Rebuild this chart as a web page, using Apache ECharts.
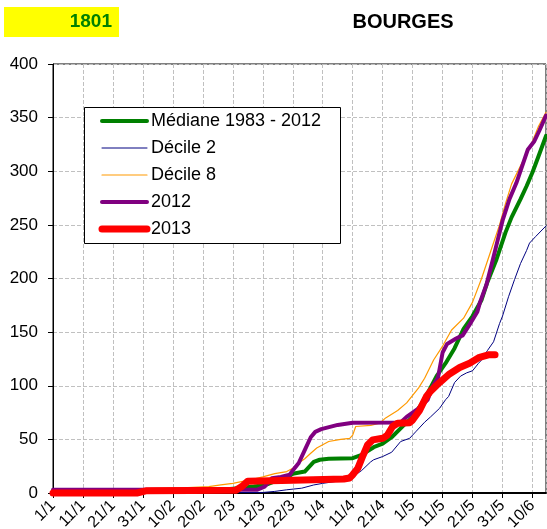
<!DOCTYPE html>
<html>
<head>
<meta charset="utf-8">
<script src="https://cdn.jsdelivr.net/npm/echarts@6/dist/echarts.min.js"></script>
<style>
html, body { margin: 0; padding: 0; background: #fff; }
#chart { width: 547px; height: 529px; }
</style>
</head>
<body>
<div id="chart"></div>
<script>
// day of year (0 = 1/1) against cumulated value
var tickLabels = ['1/1','11/1','21/1','31/1','10/2','20/2','2/3','12/3','22/3','1/4','11/4','21/4','1/5','11/5','21/5','31/5','10/6'];
var yTicks = [0, 50, 100, 150, 200, 250, 300, 350, 400];
var seriesNames = ['Médiane 1983 - 2012', 'Décile 2', 'Décile 8', '2012', '2013'];
var seriesColors = ['#008000', '#000080', '#ff9900', '#800080', '#ff0000'];
var seriesWidths = [4, 1, 1.2, 4, 7];

var mediane = [[0,1],[40,1],[50,2],[56,3],[60,4],[67,6],[71,7.5],[75,12],[78,14],[80,18],[84,20],[85,23],[87,29],[89,31],[92,32],[100,32.5],[103,35.5],[107,42.7],[110,46],[113,52],[117,63],[120,71],[123,83],[125,93],[128,109],[131,121],[134,135],[137,153],[140,165],[143,180],[145,197],[148,218],[151,243],[153,257],[156,274],[158,286],[160,299],[162,314],[164.5,333]];
var decile2 = [[0,0.5],[70,0.5],[74,1.5],[78,3],[83,4.5],[87,7.5],[90,9],[95,11],[100,15],[103,21],[106,29],[107,31],[110,34],[113,38],[116,48],[119,51],[121,57],[124,66],[126,71],[129,79],[131,87],[132,90],[134,103],[136,109],[138,112],[140,114],[142,121],[143,124],[145,133],[147,141],[149,158],[150,165],[152,183],[154,199],[156,214],[158,226],[159,233],[161,239],[164.5,249]];
var decile8 = [[0,3],[25,3],[31,4],[45,5],[52,6],[56,7.5],[60,9],[67,13],[70,15],[74,18],[78,20],[80,23],[82,28],[84,32],[86,37],[88,42],[90,45],[92,48],[96,50],[99,51],[100,54],[101,62],[106,63],[109,65],[111,70],[115,77],[118,84],[120,91],[122,98],[124,107],[127,124],[130,137],[133,152],[137,163],[140,178],[143,200],[146,225],[149,250],[151,270],[153,288],[156,305],[158,316],[160,328],[162,342],[164.5,355]];
var an2012 = [[0,3],[68,3],[70.6,6],[73,13.7],[76,15],[79,17],[80,21],[82,28],[84,40],[86,52],[87.5,57],[89.5,59.5],[95,63.5],[100,65.5],[116,65.7],[118,71],[120,75],[122,79],[125,87],[126.8,100],[128.5,108],[130,131],[131.5,139],[134.5,144],[136.7,147],[139,157],[141.6,169],[142.5,178],[144.6,194],[146.8,218],[148.4,236],[150.1,255],[152.3,274],[154.6,289],[156.2,302],[158.4,320],[160.6,328],[162.3,338],[164.5,352]];
var an2013 = [[0,0],[28,0],[31,2],[61,2.5],[63,6],[65,11],[80,12],[97,13],[99,14],[100,17],[101.7,23],[103.3,34],[105,45],[106.7,49.5],[110,51],[111.6,54],[113.3,62],[115,65],[119,65.5],[120,68],[122.3,77],[124.6,90],[126,95],[129,103],[132.3,111],[135.7,117],[139,121],[142.3,126.5],[145.6,129],[147.5,129]];
var allData = [mediane, decile2, decile8, an2012, an2013];

var font = 'Arial, "Liberation Sans", sans-serif';
var chart = echarts.init(document.getElementById('chart'));

var series = [];
var graphic = [
	{ type: 'rect', shape: { x: 4, y: 7, width: 115, height: 30 }, style: { fill: '#ffff00' } },
	{ type: 'text', style: { x: 112, y: 22, text: '1801', fill: '#008000', font: 'bold 19px ' + font, textAlign: 'right', textVerticalAlign: 'middle' } },
	{ type: 'text', style: { x: 403, y: 22, text: 'BOURGES', fill: '#000', font: 'bold 20px ' + font, textAlign: 'center', textVerticalAlign: 'middle' } },
	{ type: 'rect', z: 10, shape: { x: 84.5, y: 107.5, width: 256, height: 136 }, style: { fill: '#fff', stroke: '#000', lineWidth: 1 } }
];

for (var i = 0; i < seriesNames.length; i++) {
	series.push({
		name: seriesNames[i],
		type: 'line',
		data: allData[i],
		symbol: 'none',
		clip: false,
		lineStyle: { color: seriesColors[i], width: seriesWidths[i], cap: 'round', join: 'round' }
	});
	// legend entry drawn by hand (sample line + label)
	var ly = 121 + i * 27;
	graphic.push({ type: 'line', z: 11, shape: { x1: 102, y1: ly, x2: 147, y2: ly }, style: { stroke: seriesColors[i], lineWidth: seriesWidths[i], lineCap: 'round' } });
	graphic.push({ type: 'text', z: 11, style: { x: 151, y: ly, text: seriesNames[i], fill: '#000', font: '18px ' + font, textVerticalAlign: 'middle' } });
}

var option = {
	animation: false,
	grid: { left: 53, right: 1, top: 64, bottom: 36, show: true, borderColor: '#000', borderWidth: 1, outerBoundsMode: 'none', containLabel: false },
	xAxis: {
		type: 'value', min: 0, max: 164.5, interval: 10,
		axisLine: { lineStyle: { color: '#000', width: 2 } },
		axisTick: { show: true, length: 5, lineStyle: { color: '#000' } },
		splitLine: { show: true, lineStyle: { color: '#c0c0c0', type: 'dashed' } },
		axisLabel: {
			rotate: 45, margin: 10, fontSize: 16, fontFamily: font, color: '#000',
			showMaxLabel: false,
			formatter: function (v) { return tickLabels[v / 10] || ''; }
		}
	},
	yAxis: {
		type: 'value', min: yTicks[0], max: yTicks[yTicks.length - 1], interval: 50,
		axisLine: { show: true, lineStyle: { color: '#000', width: 1 } },
		axisTick: { show: true, length: 5, lineStyle: { color: '#000' } },
		splitLine: { show: true, lineStyle: { color: '#c0c0c0', type: 'dashed' } },
		axisLabel: { margin: 15, fontSize: 17, fontFamily: font, color: '#000' }
	},
	graphic: graphic,
	series: series
};
chart.setOption(option);
</script>
</body>
</html>
